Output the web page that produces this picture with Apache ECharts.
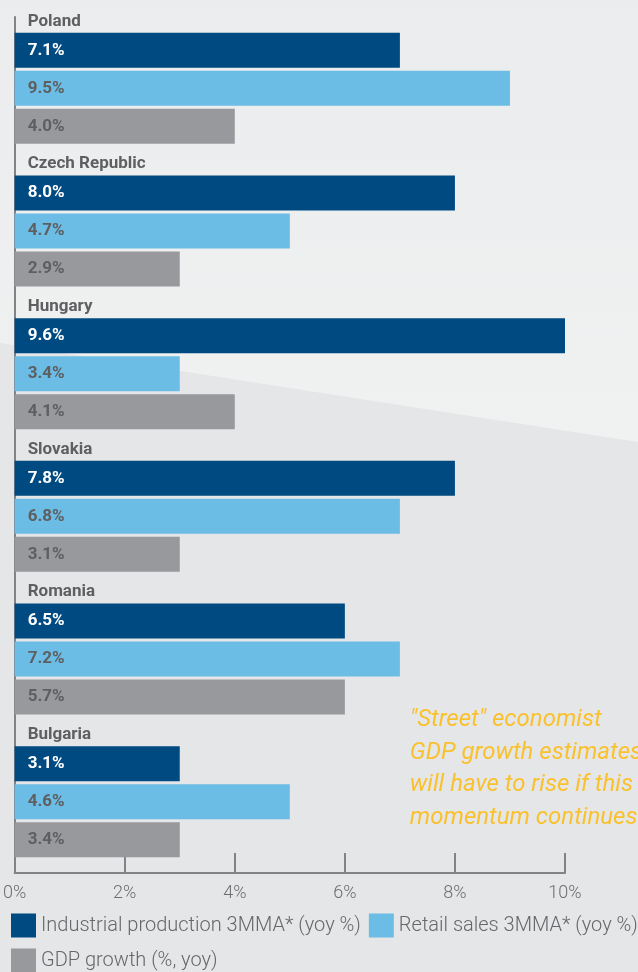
<!DOCTYPE html>
<html>
<head>
<meta charset="utf-8">
<script src="https://cdn.jsdelivr.net/npm/echarts@6/dist/echarts.min.js"></script>
<style>
html,body{margin:0;padding:0;background:#e6e7e9;}
#chart{width:638px;height:972px;}
</style>
</head>
<body>
<div id="chart"></div>
<script>
// ---- data ----
const countries = ['Poland', 'Czech Republic', 'Hungary', 'Slovakia', 'Romania', 'Bulgaria'];
const seriesNames = ['Industrial production 3MMA* (yoy %)', 'Retail sales 3MMA* (yoy %)', 'GDP growth (%, yoy)'];
// bar lengths as drawn in the picture (%)
const industrial = [7, 8, 10, 8, 6, 3];
const retail = [9, 5, 3, 7, 7, 5];
const gdp = [4, 3, 4, 3, 6, 3];
// values printed in the bar labels (%)
const industrialLabel = [7.1, 8.0, 9.6, 7.8, 6.5, 3.1];
const retailLabel = [9.5, 4.7, 3.4, 6.8, 7.2, 4.6];
const gdpLabel = [4.0, 2.9, 4.1, 3.1, 5.7, 3.4];
const xTicks = { min: 0, max: 10, interval: 2 };
const noteLines = ['"Street" economist', 'GDP growth estimates', 'will have to rise if this', 'momentum continues'];

const FONT = 'Roboto';
const chart = echarts.init(document.getElementById('chart'));

function barSeries(name, values, labels, color, labelColor) {
  return {
    name: name,
    type: 'bar',
    data: values,
    barWidth: 35,
    barGap: '8.6%',
    itemStyle: { color: color },
    label: {
      show: true,
      position: 'insideLeft',
      distance: 13,
      color: labelColor,
      fontFamily: FONT,
      fontWeight: 'bold',
      fontSize: 17,
      formatter: p => labels[p.dataIndex].toFixed(1) + '%'
    }
  };
}

chart.setOption({
  backgroundColor: '#e5e6e8',
  animation: false,
  graphic: [
    { type: 'polygon', z: -10, silent: true,
      shape: { points: [[0, 0], [638, 0], [638, 442], [0, 343]] },
      style: { fill: new echarts.graphic.LinearGradient(0, 0, 0, 1, [
        { offset: 0, color: '#ebeced' },
        { offset: 1, color: '#f0f1f1' }
      ]) } },
    { type: 'text', z: 10, silent: true,
      right: -4, top: 704,
      style: {
        text: noteLines.join('\n'),
        align: 'right',
        fill: '#fac12e',
        font: 'italic 400 24px ' + FONT,
        lineHeight: 32.5
      } }
  ],
  grid: { left: 12.5, right: 73, top: 17, bottom: 99, containLabel: false },
  xAxis: {
    type: 'value',
    min: xTicks.min, max: xTicks.max, interval: xTicks.interval,
    splitLine: { show: false },
    axisLine: { show: true, lineStyle: { color: '#828386', width: 2 } },
    axisTick: { show: true, inside: true, length: 20, lineStyle: { color: '#828386', width: 2 } },
    axisLabel: { formatter: '{value}%', color: '#6d6e71', fontFamily: FONT, fontWeight: 300, fontSize: 18, margin: 11 }
  },
  yAxis: {
    type: 'category',
    data: countries,
    inverse: true,
    axisLine: { show: true, lineStyle: { color: '#828386', width: 2 } },
    axisTick: { show: false },
    splitLine: { show: false },
    axisLabel: {
      show: true,
      interval: 0,
      hideOverlap: false,
      inside: true,
      margin: 13,
      formatter: v => '{n|' + v + '}',
      rich: {
        n: {
          color: '#5e5f61',
          fontFamily: FONT,
          fontWeight: 'bold',
          fontSize: 17,
          padding: [0, 0, 134, 0]
        }
      }
    }
  },
  legend: {
    left: 11, top: 912, width: 627, padding: 0,
    itemWidth: 25, itemHeight: 24, itemGap: 8,
    icon: 'rect',
    textStyle: { color: '#66676a', fontFamily: FONT, fontWeight: 300, fontSize: 20, lineHeight: 27 },
    data: seriesNames
  },
  series: [
    barSeries(seriesNames[0], industrial, industrialLabel, '#004a82', '#ffffff'),
    barSeries(seriesNames[1], retail, retailLabel, '#6cbde5', '#5e5f61'),
    barSeries(seriesNames[2], gdp, gdpLabel, '#98999c', '#5e5f61')
  ]
});
</script>
</body>
</html>
